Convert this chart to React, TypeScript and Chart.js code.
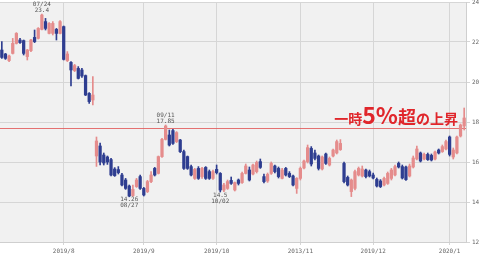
import React, { useEffect, useRef } from "react";
import { Chart, registerables } from "chart.js";

Chart.register(...registerables);

// Daily candles (Jul 2019 - Jan 2020)
const opens = [
  21.6, 21.4, 21.07, 21.43, 21.93, 22.1, 22.07, 21.27, 21.57, 22.23,
  22.18, 22.63, 23.02, 22.43, 22.43, 22.63, 22.43, 22.77, 21.07, 20.98,
  20.57, 20.68, 20.6, 20.32, 19.43, 19.1, 16.3, 16.8, 16.35, 16.25,
  16.12, 15.65, 15.62, 15.35, 15.1, 14.8, 14.32, 14.77, 15.27, 14.68,
  14.52, 15.02, 15.68, 15.43, 16.27, 17.13, 17.35, 17.57, 17.02, 17.1,
  16.52, 16.27, 15.77, 15.18, 15.68, 15.27, 15.73, 15.52, 15.18, 15.63,
  15.43, 14.6, 14.68, 15.08, 14.6, 15.1, 14.97, 15.43, 15.6, 15.4,
  15.52, 16.02, 15.27, 15.05, 15.43, 15.8, 15.68, 15.18, 15.68, 15.43,
  15.3, 14.68, 15.18, 15.7, 16.02, 16.68, 16.45, 16.3, 15.65, 16.4,
  15.85, 16.3, 16.45, 16.62, 15.93, 15.23, 14.52, 14.68, 15.35, 15.3,
  15.6, 15.52, 15.35, 15.13, 15.05, 14.85, 14.93, 15.18, 15.35, 15.93,
  15.77, 15.75, 15.3, 15.75, 16.15, 16.45, 16.15, 16.38, 16.33, 16.15,
  16.6, 16.52, 16.65, 17.25, 16.25, 16.45, 17.3, 17.8,
];
const highs = [
  22.02, 21.43, 21.35, 22.18, 22.47, 22.18, 22.1, 21.63, 22.13, 22.6,
  22.72, 23.4, 23.18, 22.97, 23.02, 22.68, 23.07, 22.8, 21.52, 21.02,
  20.88, 20.77, 20.68, 20.35, 19.47, 20.27, 17.25, 16.95, 16.45, 16.3,
  16.18, 15.72, 15.77, 15.43, 15.18, 14.85, 14.85, 15.18, 15.35, 14.73,
  15.08, 15.52, 15.73, 16.3, 17.18, 17.85, 17.6, 17.63, 17.52, 17.13,
  16.6, 16.3, 15.85, 15.68, 15.77, 15.73, 15.77, 15.6, 15.6, 15.85,
  15.47, 14.93, 15.1, 15.25, 15.0, 15.15, 15.5, 15.9, 15.75, 15.9,
  16.05, 16.15, 15.4, 15.45, 16.0, 15.85, 15.75, 15.68, 15.73, 15.52,
  15.35, 15.22, 15.75, 16.1, 16.85, 16.77, 16.6, 16.35, 16.3, 16.45,
  16.25, 16.65, 17.1, 17.12, 16.0, 15.3, 15.15, 15.6, 15.75, 15.8,
  15.65, 15.6, 15.45, 15.2, 15.12, 15.25, 15.5, 15.68, 15.85, 16.0,
  15.85, 15.8, 15.9, 16.3, 16.8, 16.5, 16.45, 16.45, 16.4, 16.55,
  16.65, 16.85, 17.1, 17.3, 16.7, 17.3, 17.9, 18.7,
];
const lows = [
  21.18, 21.13, 21.02, 21.4, 21.9, 21.93, 21.35, 21.1, 21.52, 21.97,
  22.15, 22.6, 22.6, 22.4, 22.35, 22.1, 22.4, 21.1, 21.02, 19.8,
  20.52, 20.15, 20.23, 19.32, 18.93, 18.85, 15.78, 15.85, 15.85, 15.88,
  15.3, 15.28, 15.4, 14.8, 14.63, 14.26, 14.28, 14.73, 14.63, 14.3,
  14.47, 14.97, 15.3, 15.4, 16.23, 17.1, 16.8, 16.88, 16.97, 16.47,
  15.63, 15.63, 15.3, 15.13, 15.13, 15.18, 15.13, 15.13, 15.13, 15.4,
  14.5, 14.52, 14.63, 14.88, 14.55, 14.85, 14.93, 15.4, 15.05, 15.35,
  15.45, 15.68, 14.95, 14.98, 15.38, 15.45, 15.2, 15.15, 15.3, 15.22,
  14.8, 14.43, 15.1, 15.65, 15.95, 15.8, 16.1, 15.6, 15.6, 15.88,
  15.8, 16.25, 16.4, 16.58, 14.95, 14.8, 14.27, 14.6, 15.3, 15.25,
  15.2, 15.25, 15.15, 14.75, 14.72, 14.8, 14.88, 15.1, 15.3, 15.7,
  15.15, 15.08, 15.25, 15.7, 16.1, 16.0, 16.1, 16.08, 16.05, 16.1,
  16.4, 16.48, 16.6, 16.3, 16.15, 16.4, 17.25, 17.6,
];
const closes = [
  21.23, 21.18, 21.3, 21.93, 22.43, 21.97, 21.43, 21.6, 22.1, 22.02,
  22.68, 23.35, 22.68, 22.93, 22.93, 22.43, 23.02, 21.13, 21.4, 20.6,
  20.82, 20.18, 20.3, 19.35, 19.02, 19.35, 17.05, 16.0, 15.95, 16.0,
  15.35, 15.32, 15.47, 14.85, 14.68, 14.3, 14.63, 15.1, 14.68, 14.35,
  15.02, 15.35, 15.35, 16.27, 17.13, 17.8, 16.85, 16.93, 17.47, 16.52,
  15.68, 15.68, 15.35, 15.63, 15.18, 15.68, 15.18, 15.18, 15.52, 15.47,
  14.6, 14.85, 15.02, 14.93, 14.97, 14.93, 15.43, 15.8, 15.1, 15.85,
  15.98, 15.73, 15.02, 15.38, 15.93, 15.52, 15.27, 15.6, 15.35, 15.27,
  14.85, 15.18, 15.68, 16.05, 16.72, 15.9, 16.18, 15.68, 16.25, 15.93,
  16.18, 16.6, 17.02, 16.93, 15.02, 14.85, 15.1, 15.52, 15.68, 15.65,
  15.27, 15.3, 15.2, 14.8, 14.77, 15.18, 15.43, 15.6, 15.77, 15.75,
  15.2, 15.12, 15.8, 16.2, 16.65, 16.05, 16.38, 16.12, 16.1, 16.5,
  16.45, 16.77, 17.02, 16.38, 16.6, 17.25, 17.85, 18.2,
];

const days = opens.map((_, i) => String(i));

// month tick labels and the candle where each month starts
const monthLabels = ["2019/8", "2019/9", "2019/10", "2013/11", "2019/12", "2020/1"];
const monthIndex = [17, 39, 59, 82, 102, 123];

const yTicksMin = 12;
const yTicksMax = 24;
const yTickStep = 2;

// reference level (red horizontal line)
const refLevel = 17.7;

// high / low call-outs
const noteIndex = [11, 45, 35, 60];
const noteValue = [23.4, 17.85, 14.26, 14.5];
const noteValueText = ["23.4", "17.85", "14.26", "14.5"];
const noteDate = ["07/24", "09/11", "08/27", "10/02"];
const noteAbove = [true, true, false, false];

// headline caption: [text, font size]
const captionParts: [string, number][] = [
  ["一時", 14],
  ["5%", 23],
  ["超", 18],
  ["の上昇", 14],
];

const UP = "#e58c8c";
const DOWN = "#2e3d90";

const candleColors = opens.map((o, i) => (closes[i] >= o ? UP : DOWN));

const decorPlugin = {
  id: "decor",
  beforeDraw(chart: any) {
    const { ctx, chartArea } = chart;
    ctx.save();
    ctx.fillStyle = "#ffffff";
    ctx.fillRect(0, 0, chart.width, chart.height);
    ctx.fillStyle = "#f1f1f1";
    ctx.fillRect(chartArea.left, chartArea.top, chartArea.right - chartArea.left, chartArea.bottom - chartArea.top);
    ctx.restore();
  },
  beforeDatasetsDraw(chart: any) {
    const { ctx, chartArea, scales } = chart;
    const y = Math.round(scales.y.getPixelForValue(refLevel)) + 0.5;
    ctx.save();
    ctx.strokeStyle = "rgba(226,90,90,0.85)";
    ctx.lineWidth = 1;
    ctx.beginPath();
    ctx.moveTo(chartArea.left, y);
    ctx.lineTo(chartArea.right, y);
    ctx.stroke();
    ctx.restore();
  },
  afterDatasetsDraw(chart: any) {
    const { ctx, chartArea, scales } = chart;
    ctx.save();
    ctx.font = '6px "DejaVu Sans Mono"';
    ctx.fillStyle = "#555";
    ctx.textAlign = "center";
    noteIndex.forEach((idx, k) => {
      const x = scales.x.getPixelForValue(idx);
      const y = scales.y.getPixelForValue(noteValue[k]);
      if (noteAbove[k]) {
        ctx.textBaseline = "bottom";
        ctx.fillText(noteValueText[k], x, y - 0.5);
        ctx.fillText(noteDate[k], x, y - 6.5);
      } else {
        ctx.textBaseline = "top";
        ctx.fillText(noteValueText[k], x, y);
        ctx.fillText(noteDate[k], x, y + 6);
      }
    });

    // caption
    const baseY = scales.y.getPixelForValue(refLevel) - 4;
    let total = 0;
    captionParts.forEach(([t, s]) => {
      ctx.font = `bold ${s}px "Noto Sans CJK JP"`;
      total += ctx.measureText(t).width;
    });
    let x = chartArea.right - 8 - total;
    ctx.textAlign = "left";
    ctx.textBaseline = "alphabetic";
    ctx.fillStyle = "#e0262b";
    captionParts.forEach(([t, s]) => {
      ctx.font = `bold ${s}px "Noto Sans CJK JP"`;
      ctx.fillText(t, x, baseY);
      x += ctx.measureText(t).width;
    });
    ctx.restore();
  },
};

export default function App() {
  const ref = useRef<HTMLCanvasElement | null>(null);
  useEffect(() => {
    if (!ref.current) return;
    const chart = new Chart(ref.current, {
      type: "bar",
      data: {
        labels: days,
        datasets: [
          {
            label: "body",
            data: opens.map((o, i) => [o, closes[i]]) as any,
            backgroundColor: candleColors,
            borderWidth: 0,
            barThickness: 2.6,
            grouped: false,
            order: 0,
          } as any,
          {
            label: "wick",
            data: lows.map((l, i) => [l, highs[i]]) as any,
            backgroundColor: candleColors,
            borderWidth: 0,
            barThickness: 1,
            grouped: false,
            order: 1,
          } as any,
        ],
      },
      options: {
        animation: false,
        responsive: false,
        events: [],
        layout: { padding: { top: 2, left: 0, right: 0, bottom: 0 } },
        plugins: { legend: { display: false }, tooltip: { enabled: false } },
        scales: {
          x: {
            type: "category",
            offset: true,
            grid: { offset: false, color: "#d6d6d6", tickLength: 3, lineWidth: 1 },
            border: { color: "#cfcfcf" },
            ticks: {
              autoSkip: false,
              maxRotation: 0,
              minRotation: 0,
              padding: 3,
              color: "#666",
              font: { family: "DejaVu Sans Mono", size: 6 },
              callback: (_v: any, i: number) => {
                const k = monthIndex.indexOf(i);
                return k >= 0 ? monthLabels[k] : null;
              },
            },
            afterFit: (s: any) => {
              s.paddingLeft = 0;
              s.paddingRight = 0;
              s.height = 12;
            },
          },
          y: {
            position: "right",
            min: yTicksMin,
            max: yTicksMax,
            grid: { color: "#d6d6d6", tickLength: 4, lineWidth: 1 },
            border: { color: "#cfcfcf" },
            ticks: {
              stepSize: yTickStep,
              padding: 2,
              color: "#666",
              font: { family: "DejaVu Sans Mono", size: 6 },
            },
            afterFit: (s: any) => {
              s.paddingTop = 0;
              s.paddingBottom = 0;
              s.width = 14;
            },
          },
        },
      } as any,
      plugins: [decorPlugin],
    });
    return () => chart.destroy();
  }, []);
  return (
    <div style={{ position: "fixed", left: 0, top: 0, width: 480, height: 254 }}>
      <canvas ref={ref} width={480} height={254} style={{ width: 480, height: 254 }} />
    </div>
  );
}
